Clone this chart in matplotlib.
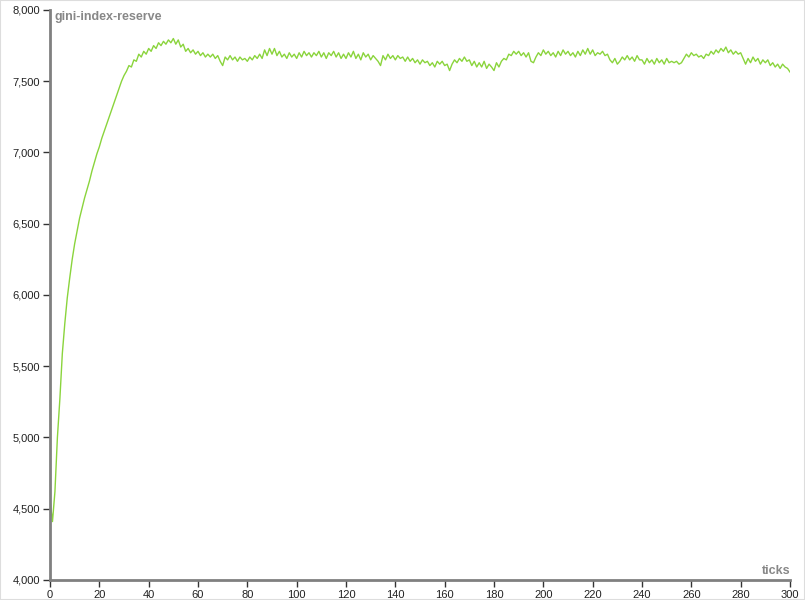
import matplotlib
matplotlib.use("Agg")
import matplotlib.pyplot as plt
from matplotlib.ticker import FuncFormatter

plt.rcParams['font.family'] = ['Liberation Sans', 'DejaVu Sans']

ticks_values = [
    4560, 4410, 4620, 5000, 5270, 5590, 5800, 5980, 6120, 6250,
    6360, 6450, 6540, 6610, 6680, 6740, 6800, 6870, 6930, 6990,
    7040, 7100, 7150, 7200, 7250, 7300, 7350, 7400, 7450, 7500,
    7540, 7570, 7610, 7600, 7650, 7640, 7690, 7670, 7710, 7690,
    7730, 7710, 7750, 7730, 7770, 7750, 7780, 7760, 7790, 7770,
    7800, 7760, 7790, 7740, 7760, 7710, 7730, 7700, 7720, 7690,
    7710, 7680, 7700, 7670, 7690, 7670, 7690, 7660, 7680, 7640,
    7610, 7670, 7650, 7680, 7650, 7670, 7640, 7670, 7650, 7660,
    7640, 7670, 7650, 7680, 7660, 7690, 7660, 7720, 7680, 7730,
    7690, 7730, 7680, 7710, 7670, 7690, 7660, 7700, 7670, 7690,
    7660, 7700, 7670, 7710, 7680, 7700, 7670, 7700, 7680, 7710,
    7670, 7700, 7660, 7700, 7680, 7710, 7670, 7700, 7660, 7690,
    7660, 7700, 7670, 7710, 7660, 7690, 7650, 7700, 7670, 7690,
    7650, 7680, 7660, 7640, 7610, 7680, 7650, 7690, 7660, 7680,
    7650, 7680, 7660, 7670, 7640, 7670, 7640, 7660, 7630, 7650,
    7620, 7650, 7630, 7640, 7610, 7630, 7600, 7640, 7620, 7640,
    7610, 7620, 7575, 7620, 7650, 7630, 7660, 7640, 7670, 7640,
    7650, 7610, 7640, 7600, 7630, 7600, 7640, 7590, 7620, 7600,
    7575, 7630, 7600, 7640, 7660, 7650, 7690, 7680, 7710, 7690,
    7710, 7680, 7700, 7670, 7700, 7640, 7630, 7670, 7700, 7680,
    7720, 7690, 7710, 7680, 7700, 7670, 7710, 7680, 7720, 7690,
    7710, 7680, 7700, 7670, 7710, 7680, 7720, 7690, 7730, 7690,
    7720, 7680, 7700, 7690, 7710, 7680, 7690, 7650, 7630, 7660,
    7620, 7640, 7670, 7650, 7680, 7650, 7670, 7640, 7680, 7650,
    7650, 7620, 7660, 7630, 7650, 7620, 7660, 7630, 7650, 7620,
    7660, 7630, 7640, 7630, 7640, 7620, 7630, 7660, 7690, 7670,
    7700, 7680, 7690, 7670, 7680, 7660, 7690, 7680, 7710, 7690,
    7720, 7700, 7730, 7710, 7740, 7700, 7720, 7690, 7710, 7690,
    7700, 7660, 7620, 7660, 7630, 7670, 7640, 7660, 7620, 7650,
    7630, 7650, 7610, 7630, 7600, 7620, 7590, 7620, 7600, 7590,
    7565,
]
ticks = list(range(len(ticks_values)))

x_ticks = list(range(0, 301, 20))
y_ticks = list(range(4000, 8001, 500))

fig = plt.figure(figsize=(8.05, 6.0), dpi=100)
fig.patch.set_facecolor('white')
ax = fig.add_axes([50/805, 1-580/600, 740/805, 570/600])

ax.plot(ticks, ticks_values, color='#8ad43c', lw=1.0)

ax.set_xlim(0, 300)
ax.set_ylim(4000, 8000)
ax.set_xticks(x_ticks)
ax.set_yticks(y_ticks)
ax.yaxis.set_major_formatter(FuncFormatter(lambda v, p: f"{int(v):,}"))

for s in ['top', 'right']:
    ax.spines[s].set_visible(False)
for s in ['left', 'bottom']:
    ax.spines[s].set_color('#808080')
    ax.spines[s].set_linewidth(2)

ax.tick_params(axis='both', length=5, width=1, color='#333333', labelsize=8, labelcolor='#222222', pad=2)

ax.text(4/740, 1 - 1/570, 'gini-index-reserve', transform=ax.transAxes, ha='left', va='top',
        fontsize=9, fontweight='bold', color='#888888')
ax.text(1, 3/570, 'ticks', transform=ax.transAxes, ha='right', va='bottom',
        fontsize=9, fontweight='bold', color='#888888')

border = plt.Rectangle((0, 0), 1, 1, transform=fig.transFigure, fill=False,
                       edgecolor='#dddddd', lw=1.5)
fig.add_artist(border)

fig.savefig('out.png', dpi=100)
